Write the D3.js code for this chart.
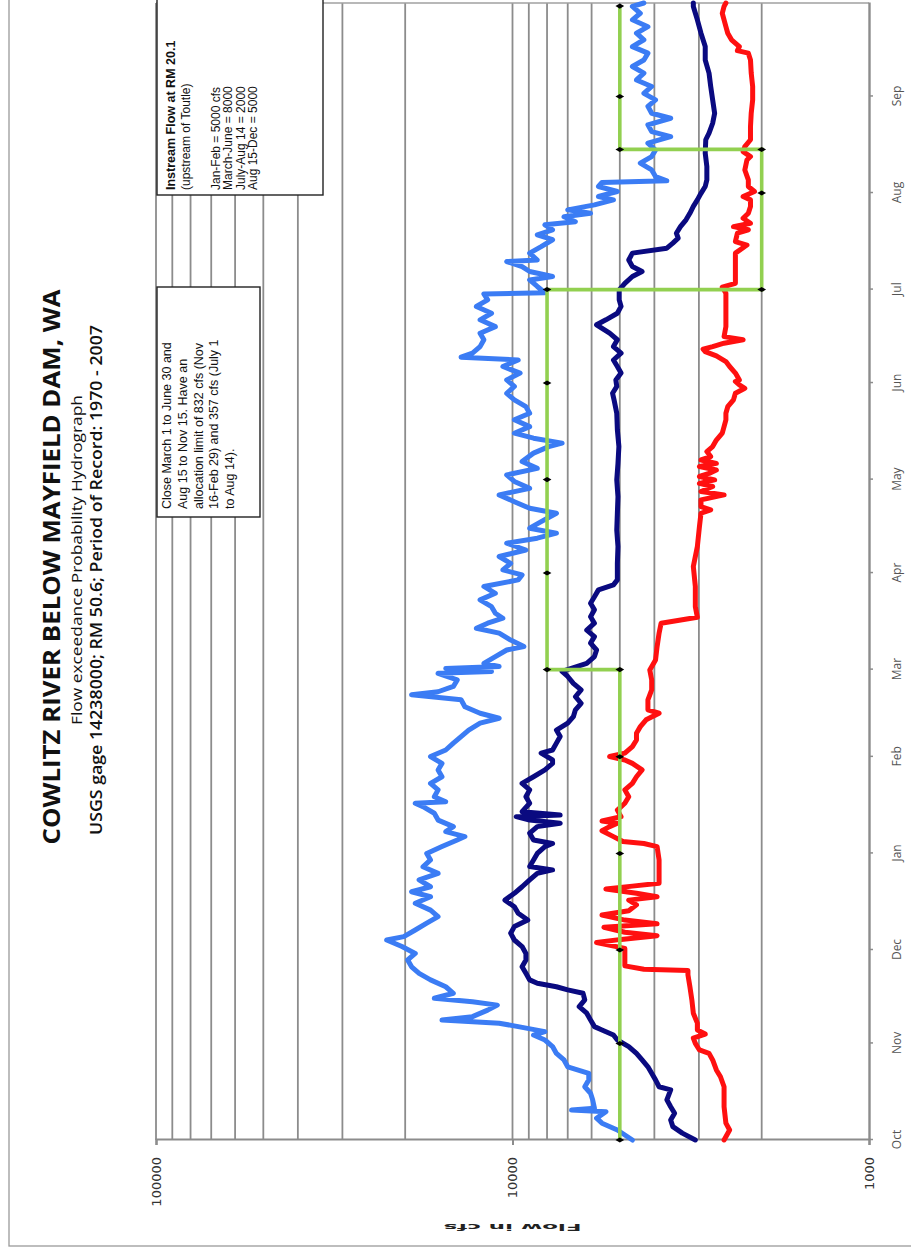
<!DOCTYPE html>
<html>
<head>
<meta charset="utf-8">
<script src="https://cdn.jsdelivr.net/npm/d3@7"></script>
<style>
  html, body { margin: 0; padding: 0; background: #fff; }
  svg { display: block; }
</style>
</head>
<body>
<svg id="chart" width="911" height="1251"></svg>
<script>
// ---- Daily exceedance flows (cfs), keyed by day of the water year (0 = Oct 1) ----
const p10Day = [0,3.2,5.4,7,9.1,9.6,10.2,12.9,15,17.1,19.3,21.4,23.5,25.7,27.8,30,32.1,33.7,34.8,36.4,37.5,38.5,39.6,41.7,43.3,44.4,45.5,47.1,49.2,51.4,53.5,55.6,57.8,59.9,62.1,64.2,65.3,67.4,69.6,71.7,73.8,76,78.1,79.7,81.3,83.5,85.6,87.7,89.9,92,94.2,96.3,97.4,99,100.6,102.7,104.9,107,108.1,108.6,110.2,112.4,114.5,116.6,118.8,120.9,
  123.1,125.2,127.4,129.5,131.6,133.8,135.4,137,139.1,141.3,142.9,143.9,145.6,147.7,149.8,150.4,151.4,152,153,155.2,157.3,158.4,160.5,162.7,164.3,165.9,167.5,169.1,171.2,173.4,175.5,177.7,179.8,181.4,183,185.1,187.3,189.4,191.6,193.2,194.8,196.4,198.5,201.2,202.8,204.9,207.1,209.2,211.4,213.5,215.6,217.8,220.5,222.6,223.7,225.3,226.9,229,231.2,233.3,235.4,237.6,239.7,241.9,
  244,246.2,248.3,250.4,251.3,252.6,254.7,256.9,259,261.1,263.3,265.4,267.6,269.7,271.6,272,274,276.1,277.2,278.8,280.4,282,282.5,284.7,286.8,289,290.6,292.2,293.8,294.8,296.4,297.5,298.6,300.2,301.8,302.9,304.5,306.1,307.4,307.9,309.3,311.4,313.6,315.7,317.8,320,322.1,323.7,325.9,328,329.6,331.8,333.9,336,338.2,340.3,342.5,344.6,346.7,348.9,351,353.2,355.3,357.4,359.6,361.7,363.9,365];
const p10Flow = [4610,5080,5610,5810,5470,6830,5890,5960,6040,6270,6110,6110,7000,7170,7530,7720,8110,8730,8110,9640,10900,15770,12950,11740,11030,12950,16570,14650,15390,16980,18280,19190,19680,18740,20420,22540,20180,18740,17400,16170,16980,18740,16980,19190,16980,18280,16170,17830,16980,17400,15770,14290,13600,15390,14650,16170,16570,17830,18740,15390,16570,16170,16980,15770,16170,15770,
  16980,15390,14650,13940,13270,12330,10900,12330,13600,13940,19190,16170,14650,14290,16170,11450,15390,10900,12030,11170,10380,9290,10120,10900,12630,11740,10640,11170,11450,12330,11170,12030,9640,9400,10640,10120,10900,9170,10380,8520,7530,8950,8310,7530,8950,9880,10900,8950,9880,10380,8520,9400,8730,7910,7260,8730,9880,8950,9880,8950,9170,9880,10380,9880,
  10380,9520,10640,9640,13940,12950,12330,12030,12330,11170,12330,11450,12630,11740,12030,8110,8520,8950,7720,8950,9400,10380,8520,8950,8310,7720,8520,7720,8110,6660,7170,6040,7000,5890,5210,5740,5080,5740,5610,3690,3970,4070,4380,4070,3970,4170,3600,4070,4170,3600,4070,4170,3970,4280,4070,4490,4280,4610,4280,4170,4610,4280,4490,4170,4610,4380,4610,4280];

const p50Day = [0,2.2,4.3,6.4,8.6,10.7,12.9,16.1,17.1,19.3,21.4,23.5,25.7,27.8,30,32.1,33.7,35.3,36.4,38.5,40.7,42.8,45,47.1,48.2,49.2,50.3,51.4,53.5,55.6,57.8,59.9,62.1,64.2,66.4,68.5,70.6,72.8,74.9,77,79.2,81.3,83.5,85.6,86.7,87.8,89.9,92,94.2,95.2,96.3,98.5,100.6,101.7,102.7,103.8,104.3,105.4,108.1,110.2,112.4,114.5,116.6,118.8,120.9,
  122,124.2,125.2,127.4,129.5,131.6,133.8,135.9,138.1,140.2,142.3,144.5,146.6,148.8,150.4,153,155.2,157.3,159.5,161.6,163.7,165.9,168,170.2,172.3,174.4,176.6,178.2,179.8,185.1,190.5,195.8,201.2,206.5,211.9,217.2,222.6,228,233.3,237.6,239.7,241.9,
  244,246.2,248.3,250.4,252.6,254.7,256.9,259,261.7,263.3,265.4,267.6,269.7,272.9,275,277.2,278.8,280.4,282.5,284.7,286.3,287.9,289.5,291.1,293.2,295.4,297.5,299.7,301.8,303.9,306.1,308.2,312.5,316.8,321.1,323.2,326.4,329.6,333.9,338.2,342.5,346.7,351,355.3,359.6,363.9,365];
const p50Flow = [3070,3340,3550,3600,3510,3600,3690,3600,3880,3970,4070,4170,4330,4490,4720,5080,5210,5610,5890,6040,6190,6500,6270,6340,7000,7530,8520,8950,9170,9400,9170,9170,9400,9880,10120,9880,9060,9640,9880,10500,9880,9400,8950,8520,7720,8950,8730,8520,8110,7720,8730,8950,8520,7350,8950,9760,7350,9400,8950,9170,8950,9400,8730,8110,7720,
  7720,8310,7720,7530,7350,7530,7000,6750,6660,6420,6660,6420,6750,7000,7260,6190,5890,5810,6040,5890,6190,5890,6040,5890,6040,5890,5740,5210,5080,5080,5060,5100,5080,5060,5100,5060,5030,5080,5100,5190,5240,5100,
  5130,4960,5080,5210,4960,5210,5080,5340,5810,5470,5080,4960,5020,5020,4840,4610,4330,4610,4720,4610,3690,3550,3430,3470,3380,3260,3180,3110,3030,2960,2880,2850,2850,2880,2870,2810,2745,2710,2745,2780,2810,2880,2880,2960,3030,3110,3110];

const p90Day = [0,3.2,5.4,10.7,17.1,20.3,22.5,25.7,27.8,28.9,31,32.7,34,35.3,37.5,40.7,45,49.2,53,54.4,54.8,55.9,58.9,61.5,63.4,64.4,65.6,66.7,68.3,69.4,70.6,72.2,73.6,75.5,77,78.1,79.2,80.6,81.5,82.4,85.6,89.9,94.2,95.2,95.8,97.4,99.3,100.6,101.7,102.4,103.8,105.9,108.1,110.2,112.4,114.5,116.6,118.8,120.9,
  122,123.1,124.2,126.3,128.4,130.6,132.7,134.9,137,138.1,141.3,144.5,147.7,150.9,154.1,158.4,162.7,165.9,167,167.8,171.2,177.7,184.1,190.5,196.9,201.2,202.3,203.3,205.5,207.1,208.2,209.8,210.8,211.9,213,214,215.1,216.2,217.2,218.3,219.4,221,222.6,224.7,226.9,229,231.2,233.3,235.4,237.6,239.7,241.3,242.4,243.5,
  244,246.2,248.3,249.9,251.7,253.1,253.9,254.7,255.8,256.9,257.9,261.1,266.5,271.8,273.8,275,280.4,284.7,287.3,288.4,291.1,292.2,293.2,294.3,295.9,297.5,299.7,301.8,302.9,304.5,306.1,308.2,311.4,314.6,315.7,317.3,318.9,321.1,325.3,329.6,333.9,338.2,342.5,346.7,348.9,349.7,351,353.2,355.3,357.4,359.6,361.7,363.9,365];
const p90Flow = [2550,2460,2520,2550,2550,2610,2680,2745,2810,2990,3070,3110,2880,3030,3030,3110,3140,3180,3220,3220,4280,4840,4840,4840,5810,4960,3930,4840,5540,3930,4840,5610,4720,4490,4720,3930,4490,5470,4610,3880,3880,3880,3930,4280,4900,5210,5610,5340,5080,5610,4960,5080,4840,4720,4840,4610,4490,4330,4610,
  4840,5340,4840,4610,4490,4490,4380,4220,3880,4170,4170,4070,4070,4120,3970,3930,3880,3830,3340,3030,3070,3070,3110,3030,2990,2960,2780,2960,2960,2550,2960,2745,2990,2710,2990,2810,2680,2990,2680,2960,2780,2850,2745,2680,2580,2550,2520,2520,2490,2400,2370,2230,2310,2370,
  2310,2370,2460,2520,2680,2880,2920,2745,2550,2255,2550,2520,2520,2520,2580,2370,2370,2370,2200,2370,2340,2180,2400,2150,2255,2180,2150,2150,2255,2095,2180,2180,2230,2200,2150,2255,2230,2150,2150,2140,2120,2120,2140,2150,2180,2340,2310,2430,2490,2520,2550,2580,2550,2520];

// Instream flow requirement at RM 20.1 (cfs)
const instreamDay  = [0,31,61,92,123,151,151,182,212,243,273,273,304,318,318,335,364];
const instreamFlow = [5000,5000,5000,5000,5000,5000,8000,8000,8000,8000,8000,2000,2000,2000,5000,5000,5000];

const flowTickLabels = [1000, 10000, 100000];
const monthLabels = ["Oct","Nov","Dec","Jan","Feb","Mar","Apr","May","Jun","Jul","Aug","Sep"];

const titleText = "COWLITZ RIVER BELOW MAYFIELD DAM, WA";
const subtitle1 = "Flow exceedance Probability Hydrograph";
const subtitle2 = "USGS gage 14238000; RM 50.6; Period of Record: 1970 - 2007";
const flowAxisTitle = "Flow in cfs";
const instreamNote = ["Jan-Feb = 5000 cfs", "March-June = 8000", "July-Aug 14 = 2000", "Aug 15-Dec = 5000"];
const closureNote = ["Close March 1 to June 30 and", "Aug 15 to Nov 15. Have an", "allocation limit of 832 cfs (Nov", "16-Feb 29) and 357 cfs  (July 1", "to Aug 14)."];

// ---- Layout: the chart is drawn landscape, then turned a quarter turn onto the page ----
const PW = 911, PH = 1251;
const W = PH, H = PW;                    // landscape frame
const plot = { left: 111, right: 1248, top: 156, bottom: 869 };

const svg = d3.select("#chart");
svg.append("rect").attr("width", PW).attr("height", PH).attr("fill", "#fff");
const g = svg.append("g").attr("transform", `translate(0,${PH}) rotate(-90)`);

const start = Date.UTC(2006, 9, 1), end = Date.UTC(2007, 9, 1);
const toDate = d => new Date(start + d * 864e5);

const x = d3.scaleUtc().domain([new Date(start), new Date(end)]).range([plot.left, plot.right]);
const y = d3.scaleLog().domain([1000, 100000]).range([plot.bottom, plot.top]);

// outer chart border
g.append("rect").attr("x", 5).attr("y", 9).attr("width", W + 40).attr("height", H + 40)
  .attr("fill", "none").attr("stroke", "#9a9a9a").attr("stroke-width", 1.3);

// horizontal gridlines at every log step
const grid = y.ticks().filter(v => v > 1000);
g.append("g").selectAll("line").data(grid).join("line")
  .attr("x1", plot.left).attr("x2", plot.right)
  .attr("y1", d => y(d)).attr("y2", d => y(d))
  .attr("stroke", "#8c8c8c").attr("stroke-width", 1.8);

// right plot edge
g.append("line").attr("x1", plot.right).attr("x2", plot.right)
  .attr("y1", plot.top).attr("y2", plot.bottom)
  .attr("stroke", "#a0a0a0").attr("stroke-width", 1.6);

// value axis
const yAxis = g.append("g").attr("transform", `translate(${plot.left},0)`)
  .call(d3.axisLeft(y).tickValues(flowTickLabels).tickFormat(d3.format("d")).tickSize(5).tickPadding(12));
yAxis.select(".domain").attr("stroke", "#8c8c8c").attr("stroke-width", 2.2);
yAxis.selectAll(".tick line").attr("stroke", "#8c8c8c").attr("stroke-width", 2);
yAxis.selectAll(".tick text").attr("fill", "#333").style("font-family", "'DejaVu Sans', sans-serif").style("font-size", "13px");

// value axis title, set on its side and squeezed
g.append("text")
  .attr("transform", `translate(${W - 1227},${(plot.top + plot.bottom) / 2}) rotate(-90)`)
  .attr("text-anchor", "middle").attr("dy", "0.35em")
  .style("font-family", "'DejaVu Sans', sans-serif").style("font-size", "9px").style("font-weight", "bold")
  .attr("textLength", 138).attr("lengthAdjust", "spacingAndGlyphs")
  .attr("fill", "#222").text(flowAxisTitle);

// month axis
const monthTicks = d3.utcMonth.range(new Date(start), new Date(end));
const xAxis = g.append("g").attr("transform", `translate(0,${plot.bottom})`)
  .call(d3.axisBottom(x).tickValues(monthTicks).tickFormat((d, i) => monthLabels[i]).tickSize(4).tickPadding(19).tickSizeOuter(0));
xAxis.select(".domain").attr("stroke", "#8c8c8c").attr("stroke-width", 2.4);
xAxis.selectAll(".tick line").attr("stroke", "#8c8c8c").attr("stroke-width", 1.5);
xAxis.selectAll(".tick text").attr("fill", "#555").style("font-family", "'Open Sans', sans-serif").style("font-size", "12px");

// text boxes
const closeBox = g.append("g");
closeBox.append("rect").attr("x", 734).attr("y", 157).attr("width", 230).attr("height", 103)
  .attr("fill", "#fff").attr("stroke", "#222").attr("stroke-width", 1.4);
closeBox.selectAll("text").data(closureNote).join("text")
  .attr("x", 742).attr("y", (d, i) => 171 + i * 15.8)
  .style("font-family", "'Liberation Sans', Arial, sans-serif").style("font-size", "12.5px").attr("fill", "#111")
  .text(d => d);

const flowBox = g.append("g");
flowBox.append("rect").attr("x", 1056).attr("y", 157).attr("width", 200).attr("height", 166)
  .attr("fill", "#fff").attr("stroke", "#222").attr("stroke-width", 1.4);
flowBox.append("text").attr("x", 1061).attr("y", 175)
  .style("font-family", "'Liberation Sans', Arial, sans-serif").style("font-size", "12.5px").style("font-weight", "bold")
  .attr("fill", "#111").text("Instream Flow at RM 20.1");
flowBox.append("text").attr("x", 1061).attr("y", 190)
  .style("font-family", "'Liberation Sans', Arial, sans-serif").style("font-size", "12px")
  .attr("fill", "#111").text("(upstream of Toutle)");
flowBox.selectAll("text.note").data(instreamNote).join("text").attr("class", "note")
  .attr("x", 1061).attr("y", (d, i) => 220 + i * 12.3)
  .style("font-family", "'Liberation Sans', Arial, sans-serif").style("font-size", "12px")
  .attr("fill", "#111").text(d => d);

// series
const line = d3.line().x(d => x(toDate(d[0]))).y(d => y(d[1]));
const series = [
  { day: p10Day, flow: p10Flow, color: "#3b7cf4" },
  { day: p50Day, flow: p50Flow, color: "#0a0a80" },
  { day: p90Day, flow: p90Flow, color: "#ff1010" }
];
series.forEach(s => {
  g.append("path").datum(s.day.map((d, i) => [d, s.flow[i]]))
    .attr("d", line).attr("fill", "none").attr("stroke", s.color)
    .attr("stroke-width", 5).attr("stroke-linejoin", "round").attr("stroke-linecap", "round");
});

const instream = instreamDay.map((d, i) => [d, instreamFlow[i]]);
g.append("path").datum(instream).attr("d", line).attr("fill", "none")
  .attr("stroke", "#92d050").attr("stroke-width", 3.6);
g.append("g").selectAll("path").data(instream).join("path")
  .attr("d", d3.symbol(d3.symbolDiamond, 22))
  .attr("transform", d => `translate(${x(toDate(d[0]))},${y(d[1])})`)
  .attr("fill", "#000");

// titles
g.append("text").attr("x", 684).attr("y", 60).attr("text-anchor", "middle")
  .style("font-family", "'Open Sans', sans-serif").style("font-size", "24px").style("font-weight", "bold")
  .attr("textLength", 555).attr("lengthAdjust", "spacingAndGlyphs")
  .attr("fill", "#111").text(titleText);
g.append("text").attr("x", 691).attr("y", 82).attr("text-anchor", "middle")
  .style("font-family", "'Open Sans', sans-serif").style("font-size", "14.5px")
  .attr("textLength", 330).attr("lengthAdjust", "spacingAndGlyphs")
  .attr("fill", "#111").text(subtitle1);
g.append("text").attr("x", 671).attr("y", 102).attr("text-anchor", "middle")
  .style("font-family", "'Open Sans', sans-serif").style("font-size", "15.5px").style("font-weight", "600")
  .attr("textLength", 510).attr("lengthAdjust", "spacingAndGlyphs")
  .attr("fill", "#111").text(subtitle2);
</script>
</body>
</html>
